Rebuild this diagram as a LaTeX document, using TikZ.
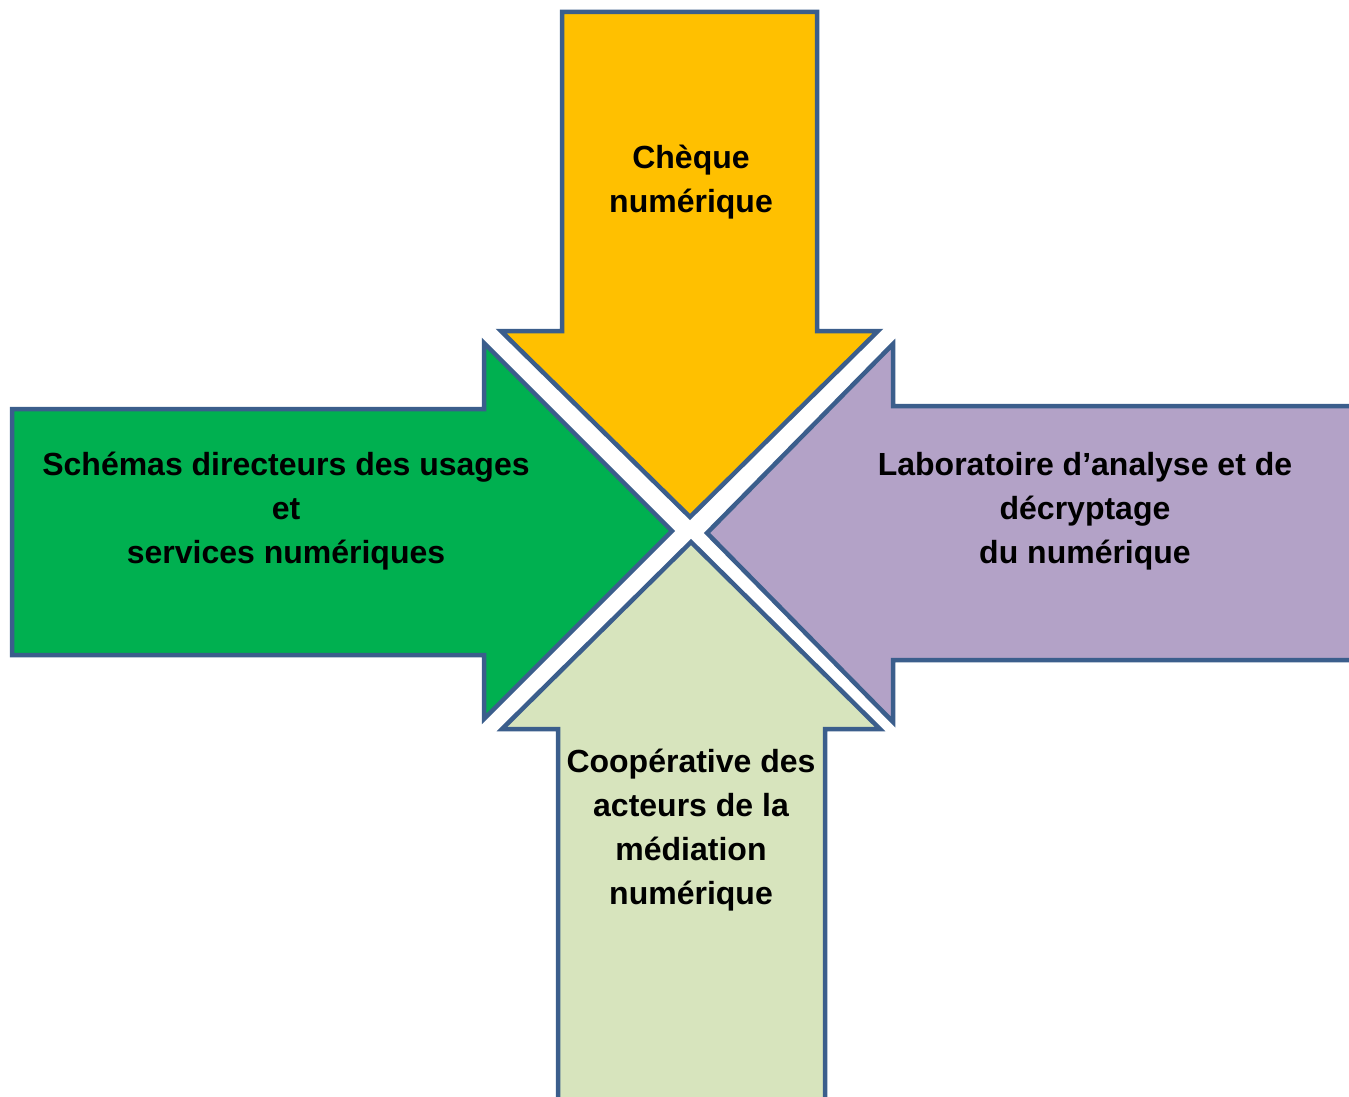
\documentclass[tikz,border=0pt]{standalone}
\usepackage{fontspec}
\setmainfont{Liberation Sans}
\usetikzlibrary{positioning}

\definecolor{frame}{HTML}{3B5E8C}
\definecolor{gold}{HTML}{FFC000}
\definecolor{leaf}{HTML}{00B050}
\definecolor{lilac}{HTML}{B3A2C7}
\definecolor{sage}{HTML}{D7E4BD}

\begin{document}
\begin{tikzpicture}[x=1pt, y=-1pt, bigarrow/.style={draw=frame, line width=4.5pt, line join=miter},
                    lbl/.style={font=\bfseries\fontsize{32}{44}\selectfont, align=center, inner sep=0pt}]

    \useasboundingbox (0,0) rectangle (1349,1097);
    \clip (0,0) rectangle (1349,1097);

    % the four arrows
    \draw[bigarrow, fill=gold]  (562,12) -- (817,12) -- (817,331) -- (878,331) -- (690,517)
                                -- (501,331) -- (562,331) -- cycle;
    \draw[bigarrow, fill=leaf]  (12,409) -- (484,409) -- (484,343) -- (672,531) -- (484,719)
                                -- (484,655) -- (12,655) -- cycle;
    \draw[bigarrow, fill=lilac] (1370,406) -- (893,406) -- (893,344) -- (707,533) -- (893,722)
                                -- (893,660) -- (1370,660) -- cycle;
    \draw[bigarrow, fill=sage]  (558,1120) -- (558,729) -- (502,729) -- (691,542) -- (880,729)
                                -- (825,729) -- (825,1120) -- cycle;

    % labels
    \node[lbl] (cheque)  at (691,182) {Chèque\\numérique};
    \node[lbl] (schemas) at (286,511) {Schémas directeurs des usages\\et\\services numériques};
    \node[lbl] (labo)    at (1085,511) {Laboratoire d’analyse et de\\décryptage\\du numérique};
    \node[lbl] (coop)    at (691,830) {Coopérative des\\acteurs de la\\médiation\\numérique};

\end{tikzpicture}
\end{document}
